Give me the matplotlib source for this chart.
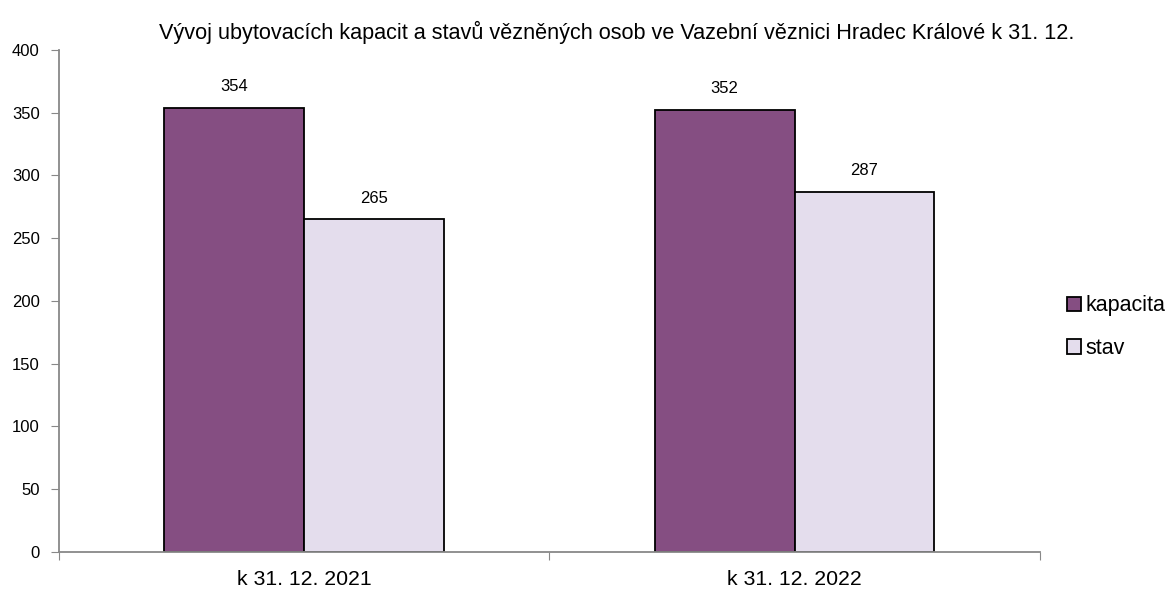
import numpy as np
import matplotlib.pyplot as plt

plt.rcParams['font.family'] = ['Liberation Sans', 'DejaVu Sans']

categories = ['k 31. 12. 2021', 'k 31. 12. 2022']
kapacita = [354, 352]
stav = [265, 287]

fig = plt.figure(figsize=(11.71, 5.97), dpi=100)
ax = fig.add_axes([0.0504, 0.0754, 0.8375, 0.8409])

x = np.arange(len(categories))
w = 0.285
b1 = ax.bar(x - w/2, kapacita, w, color='#854e82', edgecolor='black', linewidth=1.3, label='kapacita')
b2 = ax.bar(x + w/2, stav, w, color='#e4dded', edgecolor='black', linewidth=1.3, label='stav')

for rects, vals in [(b1, kapacita), (b2, stav)]:
    for r, v in zip(rects, vals):
        ax.text(r.get_x() + r.get_width()/2, v + 11, str(v), ha='center', va='bottom', fontsize=12)

ax.set_xlim(-0.5, len(categories) - 0.5)
ax.set_ylim(0, 400)
ax.set_yticks(range(0, 401, 50))
ax.set_xticks([-0.5, 0.5, 1.5])
ax.set_xticklabels([])
ax.set_xticks(x, minor=True)
ax.set_xticklabels(categories, minor=True, fontsize=15.3)
ax.tick_params(axis='x', which='minor', length=0, pad=13)
ax.tick_params(axis='x', which='major', length=6, color='#888888')
ax.tick_params(axis='y', length=6, color='#888888', labelsize=12, pad=8)

for s in ['top', 'right']:
    ax.spines[s].set_visible(False)
for s in ['left', 'bottom']:
    ax.spines[s].set_color('#888888')
    ax.spines[s].set_linewidth(1.3)

fig.text(0.527, 0.946, 'Vývoj ubytovacích kapacit a stavů vězněných osob ve Vazební věznici Hradec Králové k 31. 12.',
         ha='center', va='center', fontsize=15.6)

fig.legend(handles=[b1, b2], loc='center left', bbox_to_anchor=(0.911, 0.452), frameon=False,
           fontsize=15.5, handlelength=0.65, handleheight=0.65, handletextpad=0.2, labelspacing=1.0,
           borderaxespad=0, borderpad=0)

fig.savefig('out.png', dpi=100)
